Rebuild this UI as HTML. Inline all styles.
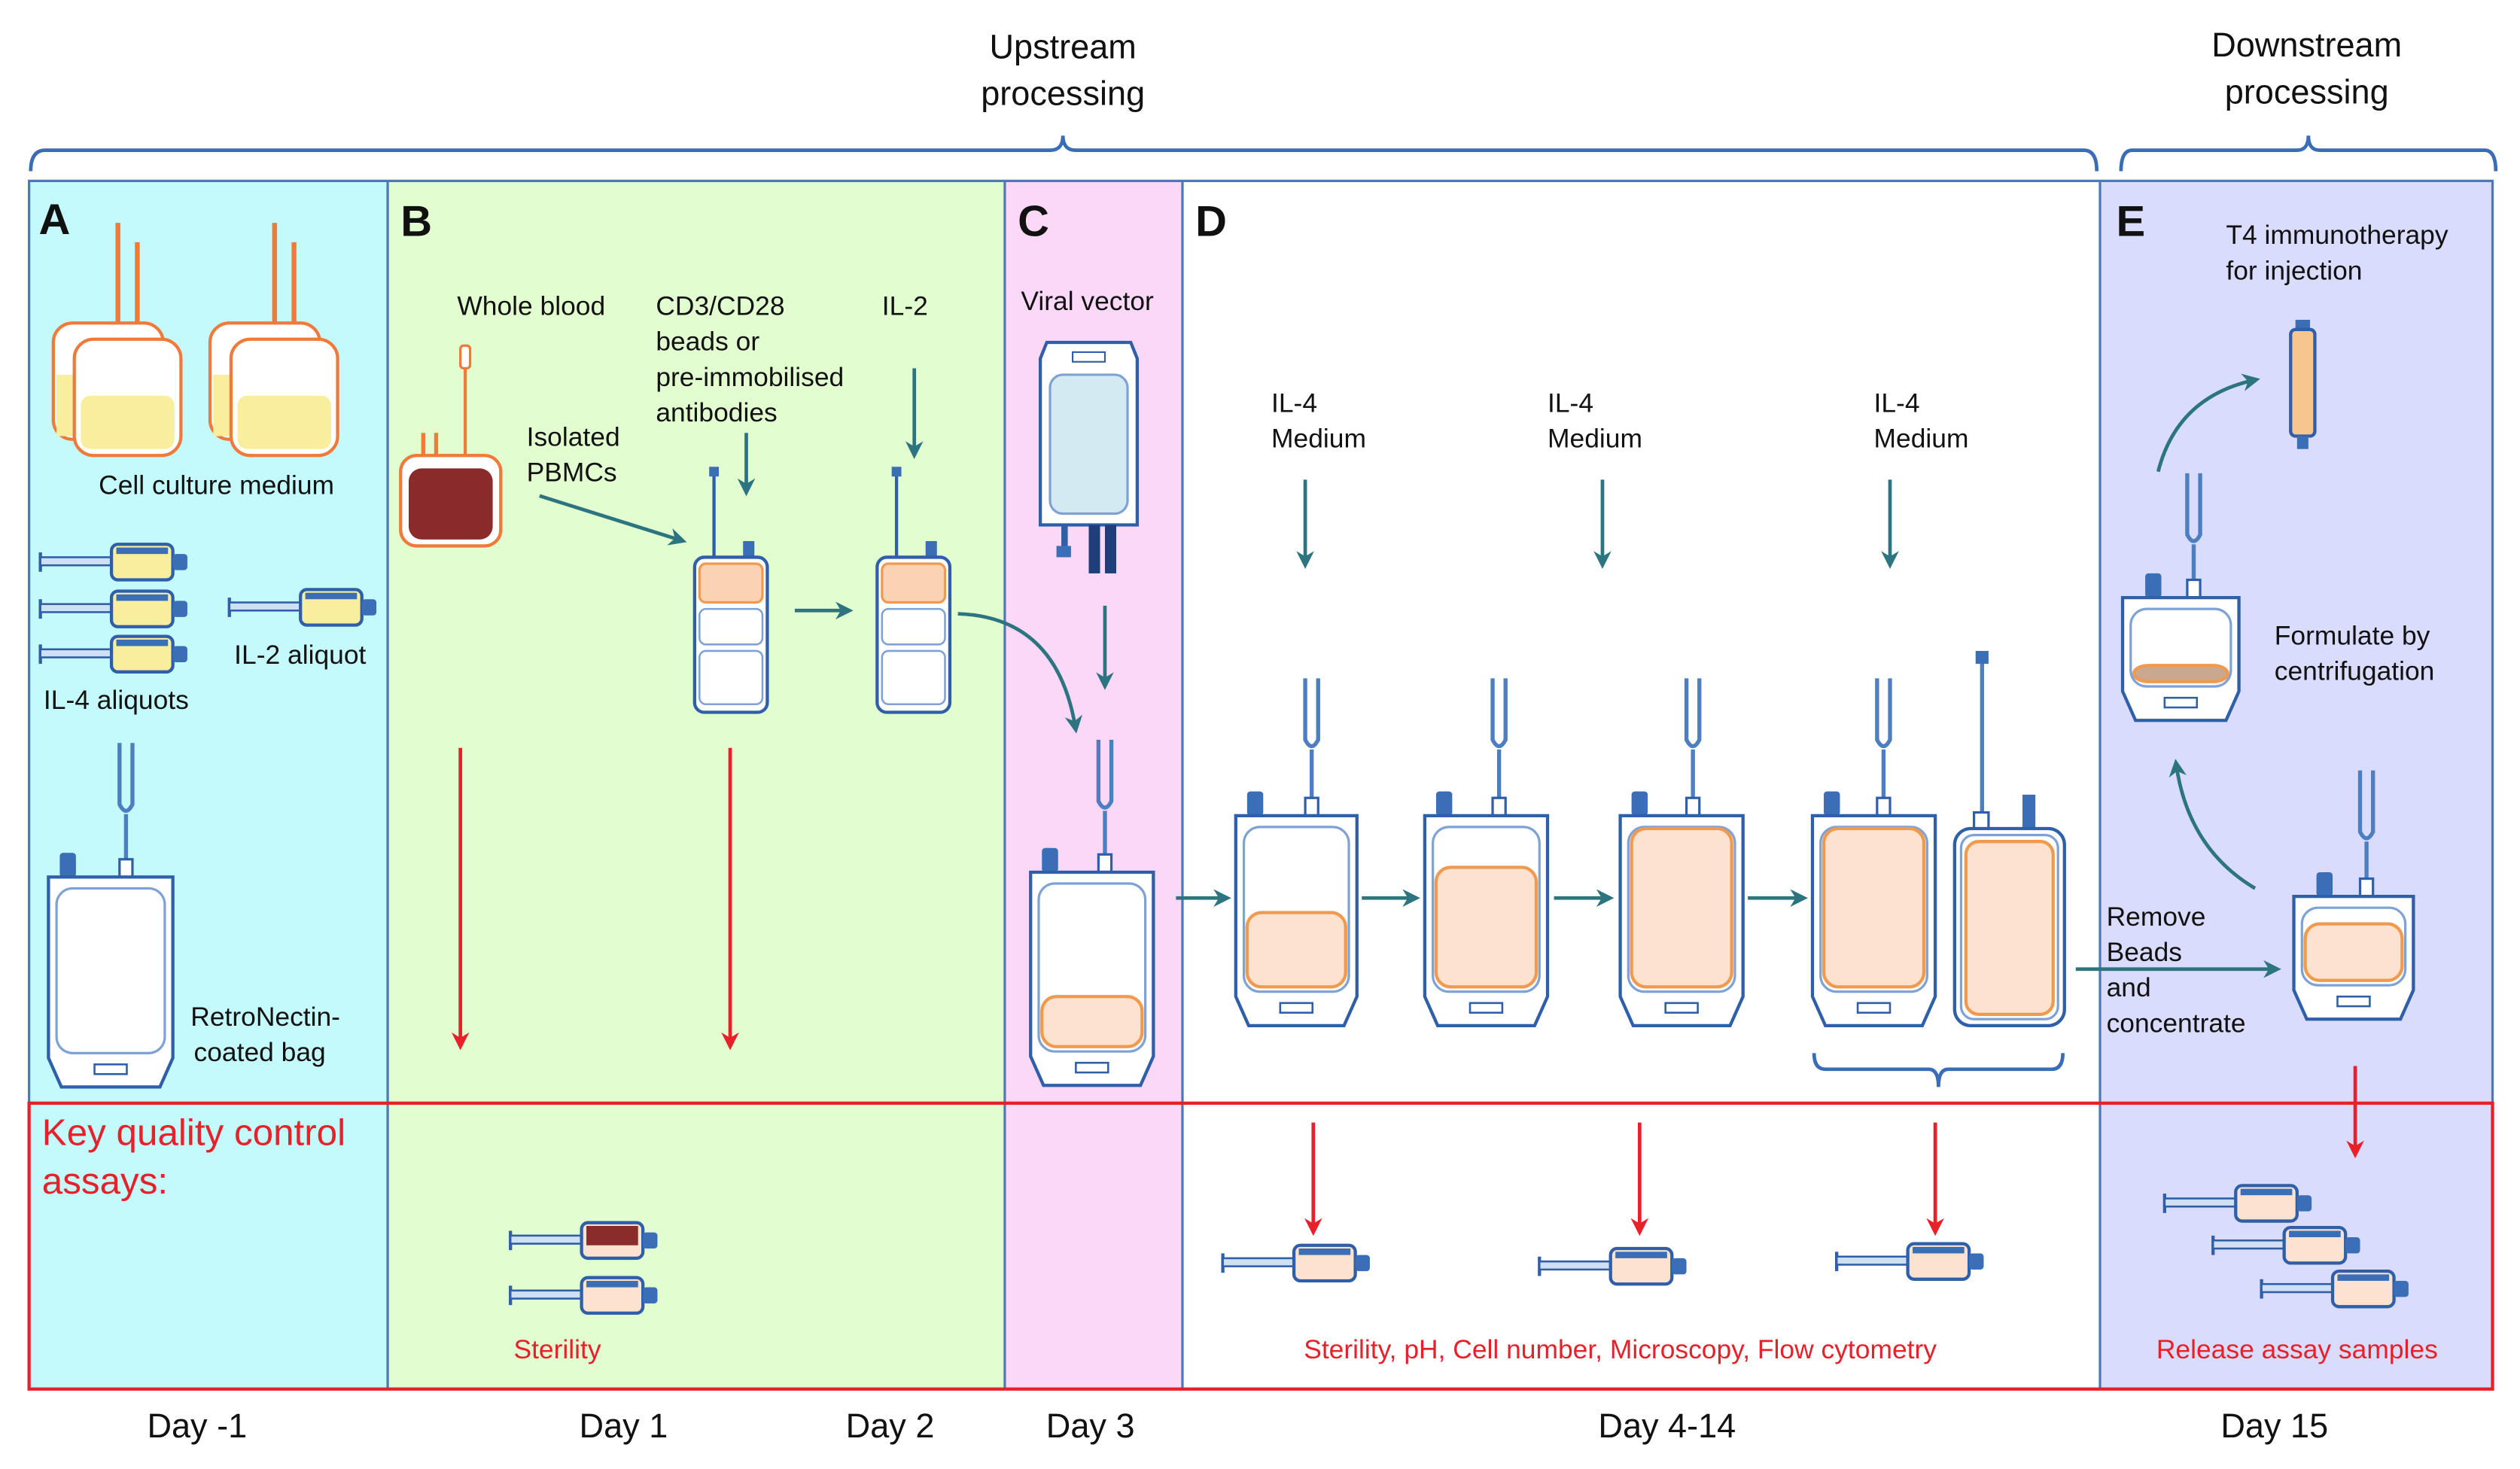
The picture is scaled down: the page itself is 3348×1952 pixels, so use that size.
<!DOCTYPE html>
<html><head><meta charset="utf-8"><style>
html,body{margin:0;padding:0;background:#fff}
svg{display:block}
text{font-family:"Liberation Sans",Arial,sans-serif;fill:#111}
</style></head><body>
<svg id="s" width="3348" height="1952" viewBox="0 0 1560 909.5" preserveAspectRatio="none" xmlns="http://www.w3.org/2000/svg">
<defs>
<marker id="ta" viewBox="0 0 10 10" refX="8" refY="5" markerWidth="5" markerHeight="5" orient="auto"><path d="M0,0 L10,5 L0,10 L3,5 Z" fill="#2b7480"/></marker>
<marker id="ra" viewBox="0 0 10 10" refX="8" refY="5" markerWidth="5" markerHeight="5" orient="auto"><path d="M0,0 L10,5 L0,10 L3,5 Z" fill="#e8202a"/></marker>
</defs>
<rect width="1560" height="909.5" fill="#fff"/>
<!-- panels -->
<rect x="18" y="112" width="222" height="748" fill="#c4fafc"/>
<rect x="240" y="112" width="382" height="748" fill="#e2fdd0"/>
<rect x="622" y="112" width="110" height="748" fill="#fcd8f8"/>
<rect x="732" y="112" width="568" height="748" fill="#ffffff"/>
<rect x="1300" y="112" width="243" height="748" fill="#d9dcfc"/>
<g stroke="#4a78b8" stroke-width="1.5" fill="none">
<rect x="18" y="112" width="1525" height="748"/>
<line x1="240" y1="112" x2="240" y2="860"/><line x1="622" y1="112" x2="622" y2="860"/>
<line x1="732" y1="112" x2="732" y2="860"/><line x1="1300" y1="112" x2="1300" y2="860"/>
</g>
<rect x="18" y="683" width="1525" height="177" fill="none" stroke="#e8202a" stroke-width="2"/>
<!-- braces -->
<g stroke="#3a6db5" stroke-width="2.2" fill="none">
<path d="M19,106 Q19,93 28,93 H650 Q658,93 658,84 Q658,93 666,93 H1290 Q1298,93 1298,106"/>
<path d="M1313,106 Q1313,93 1320,93 H1422 Q1429,93 1429,84 Q1429,93 1436,93 H1538 Q1545,93 1545,106"/>
<path d="M1123,652 Q1123,662 1130,662 H1194 Q1200,662 1200,673 Q1200,662 1206,662 H1270 Q1277,662 1277,652"/>
</g>
<g id="shapes"></g>
<!-- arrows -->
<g stroke="#2b7480" stroke-width="2.2" fill="none" marker-end="url(#ta)">
<line x1="334" y1="307" x2="423" y2="335"/>
<line x1="462" y1="268" x2="462" y2="305"/>
<line x1="566" y1="228" x2="566" y2="282"/>
<line x1="492" y1="378" x2="526" y2="378"/>
<path d="M593,380 Q655,382 666,452"/>
<line x1="684" y1="375" x2="684" y2="425"/>
<line x1="808" y1="297" x2="808" y2="350"/>
<line x1="992" y1="297" x2="992" y2="350"/>
<line x1="1170" y1="297" x2="1170" y2="350"/>
<line x1="728" y1="556" x2="760" y2="556"/>
<line x1="843" y1="556" x2="877" y2="556"/>
<line x1="962" y1="556" x2="997" y2="556"/>
<line x1="1082" y1="556" x2="1117" y2="556"/>
<line x1="1285" y1="600" x2="1410" y2="600"/>
<path d="M1396,550 Q1354,525 1347,472"/>
<path d="M1336,292 Q1348,245 1397,235"/>
</g>
<g stroke="#e8202a" stroke-width="2.2" fill="none" marker-end="url(#ra)">
<line x1="285" y1="463" x2="285" y2="648"/>
<line x1="452" y1="463" x2="452" y2="648"/>
<line x1="813" y1="695" x2="813" y2="763"/>
<line x1="1015" y1="695" x2="1015" y2="763"/>
<line x1="1198" y1="695" x2="1198" y2="763"/>
<line x1="1458" y1="660" x2="1458" y2="715"/>
</g>
<!-- text -->
<g font-size="21">
<text x="658" y="36" text-anchor="middle">Upstream</text>
<text x="658" y="65" text-anchor="middle">processing</text>
<text x="1428" y="35" text-anchor="middle">Downstream</text>
<text x="1428" y="64" text-anchor="middle">processing</text>
<text x="122" y="890" text-anchor="middle">Day -1</text>
<text x="386" y="890" text-anchor="middle">Day 1</text>
<text x="551" y="890" text-anchor="middle">Day 2</text>
<text x="675" y="890" text-anchor="middle">Day 3</text>
<text x="1032" y="890" text-anchor="middle">Day 4-14</text>
<text x="1408" y="890" text-anchor="middle">Day 15</text>
</g>
<g font-size="27" font-weight="bold">
<text x="24" y="145">A</text><text x="248" y="146">B</text><text x="630" y="146">C</text><text x="740" y="146">D</text><text x="1310" y="146">E</text>
</g>
<g font-size="16.5">
<text x="134" y="306" text-anchor="middle">Cell culture medium</text>
<text x="27" y="439">IL-4 aliquots</text>
<text x="145" y="411">IL-2 aliquot</text>
<text x="118" y="635">RetroNectin-</text>
<text x="120" y="657">coated bag</text>
<text x="283" y="195">Whole blood</text>
<text x="326" y="276">Isolated</text>
<text x="326" y="298">PBMCs</text>
<text x="406" y="195">CD3/CD28</text>
<text x="406" y="217">beads or</text>
<text x="406" y="239">pre-immobilised</text>
<text x="406" y="261">antibodies</text>
<text x="546" y="195">IL-2</text>
<text x="632" y="192">Viral vector</text>
<text x="787" y="255">IL-4</text><text x="787" y="277">Medium</text>
<text x="958" y="255">IL-4</text><text x="958" y="277">Medium</text>
<text x="1160" y="255">IL-4</text><text x="1160" y="277">Medium</text>
<text x="1378" y="151">T4 immunotherapy</text>
<text x="1378" y="173">for injection</text>
<text x="1408" y="399">Formulate by</text>
<text x="1408" y="421">centrifugation</text>
<text x="1304" y="573">Remove</text>
<text x="1304" y="595">Beads</text>
<text x="1304" y="617">and</text>
<text x="1304" y="639">concentrate</text>
</g>
<g font-size="16.5" style="fill:#e8202a">
<text x="318" y="841" style="fill:#e8202a">Sterility</text>
<text x="1003" y="841" text-anchor="middle" style="fill:#e8202a">Sterility, pH, Cell number, Microscopy, Flow cytometry</text>
<text x="1422" y="841" text-anchor="middle" style="fill:#e8202a">Release assay samples</text>
</g>
<text x="26" y="709" font-size="23" style="fill:#e8202a">Key quality control</text>
<text x="26" y="739" font-size="23" style="fill:#e8202a">assays:</text>
</svg>
<script>
var NS="http://www.w3.org/2000/svg",G=document.getElementById("shapes");
function el(t,a){var e=document.createElementNS(NS,t);for(var k in a)e.setAttribute(k,a[k]);G.appendChild(e);return e;}
var B="#2f5fa8";
function fork(fx,top,y){
 el("path",{d:"M"+(fx-4)+","+top+" V"+(top+38)+" Q"+fx+","+(top+46)+" "+(fx+4)+","+(top+38)+" V"+top+" M"+fx+","+(top+44)+" V"+(y-10),stroke:"#4d7fc0","stroke-width":2.5,fill:"none"});
 el("rect",{x:fx-4,y:y-11,width:8,height:11,fill:"#fff",stroke:B,"stroke-width":1.5});
}
function bag(x,y,w,h,fx,top,ft,fc,cx,noCap){
 if(fx)fork(fx,top,y);
 if(!noCap)el("rect",{x:cx,y:y-15,width:10,height:15,rx:2,fill:"#3a6fb8"});
 el("path",{d:"M"+x+","+y+" H"+(x+w)+" V"+(y+h-18)+" L"+(x+w-8)+","+(y+h)+" H"+(x+8)+" L"+x+","+(y+h-18)+" Z",fill:"#fff",stroke:B,"stroke-width":2});
 el("rect",{x:x+5,y:y+7,width:w-10,height:h-28,rx:10,fill:"none",stroke:"#7fa2d6","stroke-width":1.5});
 if(ft)el("rect",{x:x+7,y:ft,width:w-14,height:(y+h-24)-ft,rx:9,fill:fc||"#fde3cf",stroke:"#f09a50","stroke-width":2});
 el("rect",{x:x+w/2-10,y:y+h-14,width:20,height:6,fill:"#fff",stroke:B,"stroke-width":1.2});
}
function syr(x,y,fc,dark){
 el("line",{x1:x,y1:y-6,x2:x,y2:y+6,stroke:B,"stroke-width":2});
 el("rect",{x:x,y:y-3,width:46,height:5,fill:"#cfe0f5",stroke:B,"stroke-width":1.2});
 el("rect",{x:x+44,y:y-11,width:38,height:22,rx:4,fill:fc,stroke:B,"stroke-width":2});
 el("rect",{x:x+47,y:y-9,width:32,height:dark?12:4,fill:dark?"#8b2c2c":"#3a6fb8"});
 el("rect",{x:x+82,y:y-5,width:9,height:10,rx:2,fill:"#3a6fb8"});
}
function medbag(x){
 el("line",{x1:x+40,y1:138,x2:x+40,y2:200,stroke:"#f07a3a","stroke-width":3});
 el("line",{x1:x+52,y1:150,x2:x+52,y2:210,stroke:"#f07a3a","stroke-width":3});
 el("rect",{x:x,y:200,width:68,height:72,rx:12,fill:"#fff",stroke:"#f07a3a","stroke-width":2});
 el("rect",{x:x+2,y:232,width:30,height:38,fill:"#f9ee9e"});
 el("rect",{x:x+13,y:210,width:66,height:72,rx:12,fill:"#fff",stroke:"#f07a3a","stroke-width":2});
 el("rect",{x:x+17,y:245,width:58,height:33,rx:6,fill:"#f9ee9e"});
}
medbag(33);medbag(130);
syr(25,348,"#f9ee9e");syr(25,377,"#f9ee9e");syr(25,405,"#f9ee9e");syr(142,376,"#f9ee9e");
bag(30,543,77,130,78,460,0,0,37);
// whole blood
el("line",{x1:288,y1:218,x2:288,y2:282,stroke:"#f07a3a","stroke-width":2});
el("rect",{x:285,y:214,width:6,height:14,rx:2,fill:"#fff",stroke:"#f07a3a","stroke-width":1.5});
el("path",{d:"M262,282 V268 M270,282 V268",stroke:"#f07a3a","stroke-width":2.5});
el("rect",{x:248,y:282,width:62,height:56,rx:10,fill:"#fff",stroke:"#f07a3a","stroke-width":2});
el("rect",{x:253,y:290,width:52,height:44,rx:8,fill:"#8b2a2a"});
// PBMC bags
[430,543].forEach(function(x){
 el("line",{x1:x+12,y1:292,x2:x+12,y2:345,stroke:B,"stroke-width":2});
 el("rect",{x:x+9,y:289,width:6,height:6,fill:"#3a6fb8"});
 el("rect",{x:x+30,y:335,width:7,height:10,fill:"#3a6fb8"});
 el("rect",{x:x,y:345,width:45,height:96,rx:6,fill:"#fff",stroke:B,"stroke-width":2});
 el("rect",{x:x+3,y:349,width:39,height:24,rx:4,fill:"#fbd2b4",stroke:"#f09a50","stroke-width":1.5});
 el("rect",{x:x+3,y:377,width:39,height:22,rx:4,fill:"#fff",stroke:"#7fa2d6","stroke-width":1.2});
 el("rect",{x:x+3,y:403,width:39,height:33,rx:4,fill:"#fff",stroke:"#7fa2d6","stroke-width":1.2});
});
// viral vector
el("path",{d:"M648,212 H700 L704,222 V325 H644 V222 Z",fill:"#fff",stroke:B,"stroke-width":2});
el("rect",{x:650,y:232,width:48,height:86,rx:8,fill:"#d4eaf2",stroke:"#7fa2d6","stroke-width":1.5});
el("rect",{x:664,y:218,width:20,height:6,fill:"#fff",stroke:B,"stroke-width":1});
el("rect",{x:657,y:325,width:4,height:18,fill:B});el("rect",{x:654,y:338,width:9,height:7,fill:"#3a6fb8"});
el("rect",{x:674,y:325,width:7,height:30,fill:"#1f3f7a"});el("rect",{x:684,y:325,width:7,height:30,fill:"#1f3f7a"});
bag(638,540,76,132,684,458,617,0,645);
bag(765,505,75,130,812,420,565,0,772);
bag(882,505,76,130,928,420,537,0,889);
bag(1003,505,76,130,1048,420,513,0,1010);
bag(1122,505,76,130,1166,420,513,0,1129);
el("line",{x1:1227,y1:410,x2:1227,y2:505,stroke:"#4d7fc0","stroke-width":2.5});
el("rect",{x:1223,y:403,width:8,height:8,fill:"#3a6fb8"});
el("rect",{x:1222,y:503,width:9,height:12,fill:"#fff",stroke:B,"stroke-width":1.5});
el("rect",{x:1252,y:492,width:8,height:23,fill:"#3a6fb8"});
el("rect",{x:1210,y:513,width:68,height:122,rx:10,fill:"#fff",stroke:B,"stroke-width":2});
el("rect",{x:1214,y:517,width:60,height:114,rx:8,fill:"none",stroke:"#7fa2d6","stroke-width":1.5});
el("rect",{x:1217,y:521,width:54,height:107,rx:8,fill:"#fde3cf",stroke:"#f09a50","stroke-width":2});
// E
bag(1314,370,72,76,1358,293,412,"#c9a88f",1328);
bag(1420,555,74,76,1465,477,572,0,1434);
// T4 syringe
el("rect",{x:1421,y:198,width:9,height:6,fill:"#3a6fb8"});
el("rect",{x:1418,y:204,width:15,height:66,rx:3,fill:"#f7c58e",stroke:B,"stroke-width":2});
el("rect",{x:1422,y:270,width:7,height:8,fill:"#3a6fb8"});
// QC syringes
syr(316,768,"#fde3cf",1);syr(316,802,"#fde3cf");
syr(757,782,"#fde3cf");syr(953,784,"#fde3cf");syr(1137,781,"#fde3cf");
syr(1340,745,"#fde3cf");syr(1370,771,"#fde3cf");syr(1400,798,"#fde3cf");
</script>
</body></html>
